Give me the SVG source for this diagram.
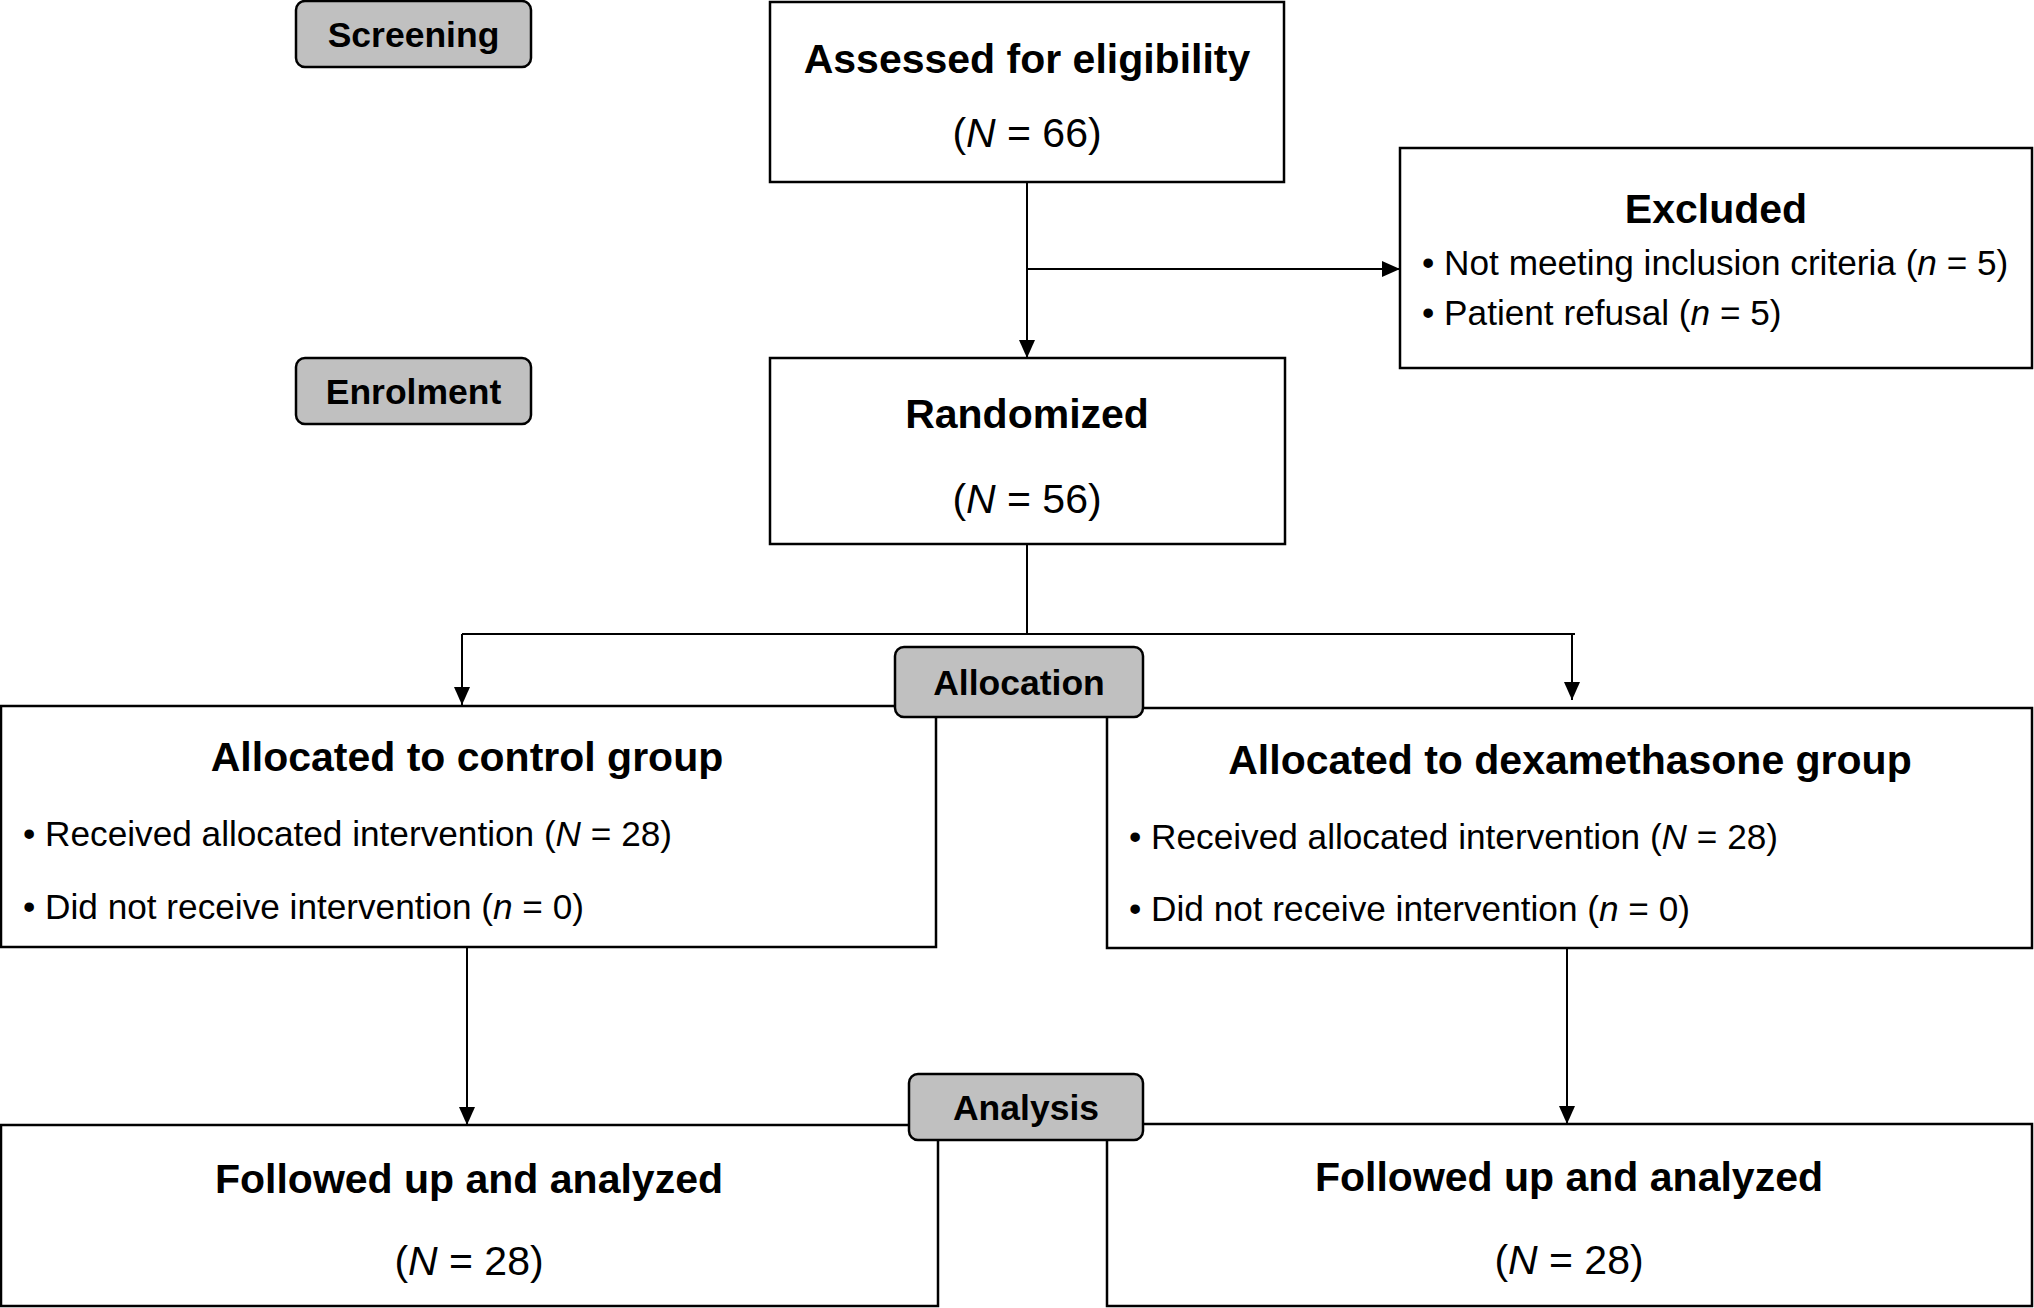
<svg xmlns="http://www.w3.org/2000/svg" width="2034" height="1308" viewBox="0 0 2034 1308">
<style>
.box{fill:#ffffff;stroke:#000000;stroke-width:2.5}
.lab{fill:#c0c0c0;stroke:#000000;stroke-width:2.5}
.con{fill:none;stroke:#000000;stroke-width:2}
text{font-family:"Liberation Sans",Arial,sans-serif;fill:#000000}
.h{font-size:41px;font-weight:bold;text-anchor:middle}
.n{font-size:41px;text-anchor:middle}
.b{font-size:35.2px}
.l{font-size:35.5px;font-weight:bold;text-anchor:middle}
.i{font-style:italic}
</style>
<defs>
<marker id="ah" markerUnits="userSpaceOnUse" markerWidth="18" markerHeight="18" viewBox="0 0 18 16" refX="18" refY="8" orient="auto">
<path d="M0,0 L18,8 L0,16 z" fill="#000000"/>
</marker>
</defs>
<rect width="2034" height="1308" fill="#ffffff"/>
<g id="connectors">
<line class="con" x1="1027" y1="182" x2="1027" y2="358" marker-end="url(#ah)"/>
<line class="con" x1="1027" y1="269" x2="1400" y2="269" marker-end="url(#ah)"/>
<polyline class="con" points="1027,544 1027,634"/>
<polyline class="con" points="462,634 1575,634"/>
<line class="con" x1="462" y1="634" x2="462" y2="705" marker-end="url(#ah)"/>
<line class="con" x1="1572" y1="634" x2="1572" y2="700" marker-end="url(#ah)"/>
<line class="con" x1="467" y1="947" x2="467" y2="1125" marker-end="url(#ah)"/>
<line class="con" x1="1567" y1="949" x2="1567" y2="1124" marker-end="url(#ah)"/>
</g>
<g id="assessed">
<rect class="box" x="770" y="2" width="514" height="180"/>
<text class="h" x="1027" y="73">Assessed for eligibility</text>
<text class="n" x="1027" y="147">(<tspan class="i">N</tspan> = 66)</text>
</g>
<g id="excluded">
<rect class="box" x="1400" y="148" width="632" height="220"/>
<text class="h" x="1716" y="223">Excluded</text>
<text class="b" x="1422" y="275">• Not meeting inclusion criteria (<tspan class="i">n</tspan> = 5)</text>
<text class="b" x="1422" y="325">• Patient refusal (<tspan class="i">n</tspan> = 5)</text>
</g>
<g id="randomized">
<rect class="box" x="770" y="358" width="515" height="186"/>
<text class="h" x="1027" y="428">Randomized</text>
<text class="n" x="1027" y="513">(<tspan class="i">N</tspan> = 56)</text>
</g>
<g id="alloc-control">
<rect class="box" x="1" y="706" width="935" height="241"/>
<text class="h" x="467" y="771">Allocated to control group</text>
<text class="b" x="23" y="846">• Received allocated intervention (<tspan class="i">N</tspan> = 28)</text>
<text class="b" x="23" y="919">• Did not receive intervention (<tspan class="i">n</tspan> = 0)</text>
</g>
<g id="alloc-dex">
<rect class="box" x="1107" y="708" width="925" height="240"/>
<text class="h" x="1570" y="774">Allocated to dexamethasone group</text>
<text class="b" x="1129" y="849">• Received allocated intervention (<tspan class="i">N</tspan> = 28)</text>
<text class="b" x="1129" y="921">• Did not receive intervention (<tspan class="i">n</tspan> = 0)</text>
</g>
<g id="follow-control">
<rect class="box" x="1" y="1125" width="937" height="181"/>
<text class="h" x="469" y="1193">Followed up and analyzed</text>
<text class="n" x="469" y="1275">(<tspan class="i">N</tspan> = 28)</text>
</g>
<g id="follow-dex">
<rect class="box" x="1107" y="1124" width="925" height="182"/>
<text class="h" x="1569" y="1191">Followed up and analyzed</text>
<text class="n" x="1569" y="1274">(<tspan class="i">N</tspan> = 28)</text>
</g>
<g id="label-screening">
<rect class="lab" x="296" y="1" width="235" height="66" rx="9"/>
<text class="l" x="413.5" y="47">Screening</text>
</g>
<g id="label-enrolment">
<rect class="lab" x="296" y="358" width="235" height="66" rx="9"/>
<text class="l" x="413.5" y="404">Enrolment</text>
</g>
<g id="label-allocation">
<rect class="lab" x="895" y="647" width="248" height="70" rx="9"/>
<text class="l" x="1019" y="695">Allocation</text>
</g>
<g id="label-analysis">
<rect class="lab" x="909" y="1074" width="234" height="66" rx="9"/>
<text class="l" x="1026" y="1120">Analysis</text>
</g>
</svg>
